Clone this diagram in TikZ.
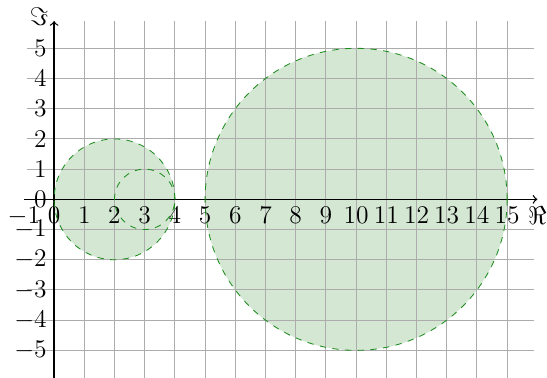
\documentclass[tikz,border=0pt]{standalone}

\definecolor{discfill}{RGB}{211,231,211}
\definecolor{discline}{RGB}{30,140,30}

\tikzset{
	disc/.style={draw=discline, dashed, fill=discfill},
	gridline/.style={gray!65, line width=0.5pt},
	axis/.style={black, semithick, ->},
	lbl/.style={font=\large}
}

\begin{document}
\begin{tikzpicture}[x=0.5cm,y=0.5cm]
			\useasboundingbox (-1.79,-5.89) rectangle (16.32,6.6);
			
			% discs (filled first, border later)
			\fill[discfill] (2,0) circle (2);
			\fill[discfill] (3,0) circle (1);
			\fill[discfill] (10,0) circle (5);
			
			\draw[gridline, step=1] (-0.9,-5.9) grid (15.9,5.9);
			
			% axes
			\coordinate (xs) at (-1,0);
			\coordinate (xe) at (16,0);
			\coordinate (ys) at (0,-5.9);
			\coordinate (ye) at (0,5.9);
			\draw[axis] (xs) -- (xe);
			\draw[axis] (ys) -- (ye);
			\node[lbl, below] (real) at (16,0) {$\Re$};
			\node[lbl] (imag) at (-0.5,6.05) {$\Im$};
			
			\foreach \x in {-1,...,15}
			{
				\node[lbl, below] (xl\x) at (\x,0) {$\x$};
			}
			\foreach \y in {-5,...,5}
			{
				\node[lbl, left] (yl\y) at (0,\y) {$\y$};
			}
			
			% borders
			\draw[disc, fill=none] (2,0) circle (2);
			\draw[disc, fill=none] (3,0) circle (1);
			\draw[disc, fill=none] (10,0) circle (5);
		\end{tikzpicture}
\end{document}
